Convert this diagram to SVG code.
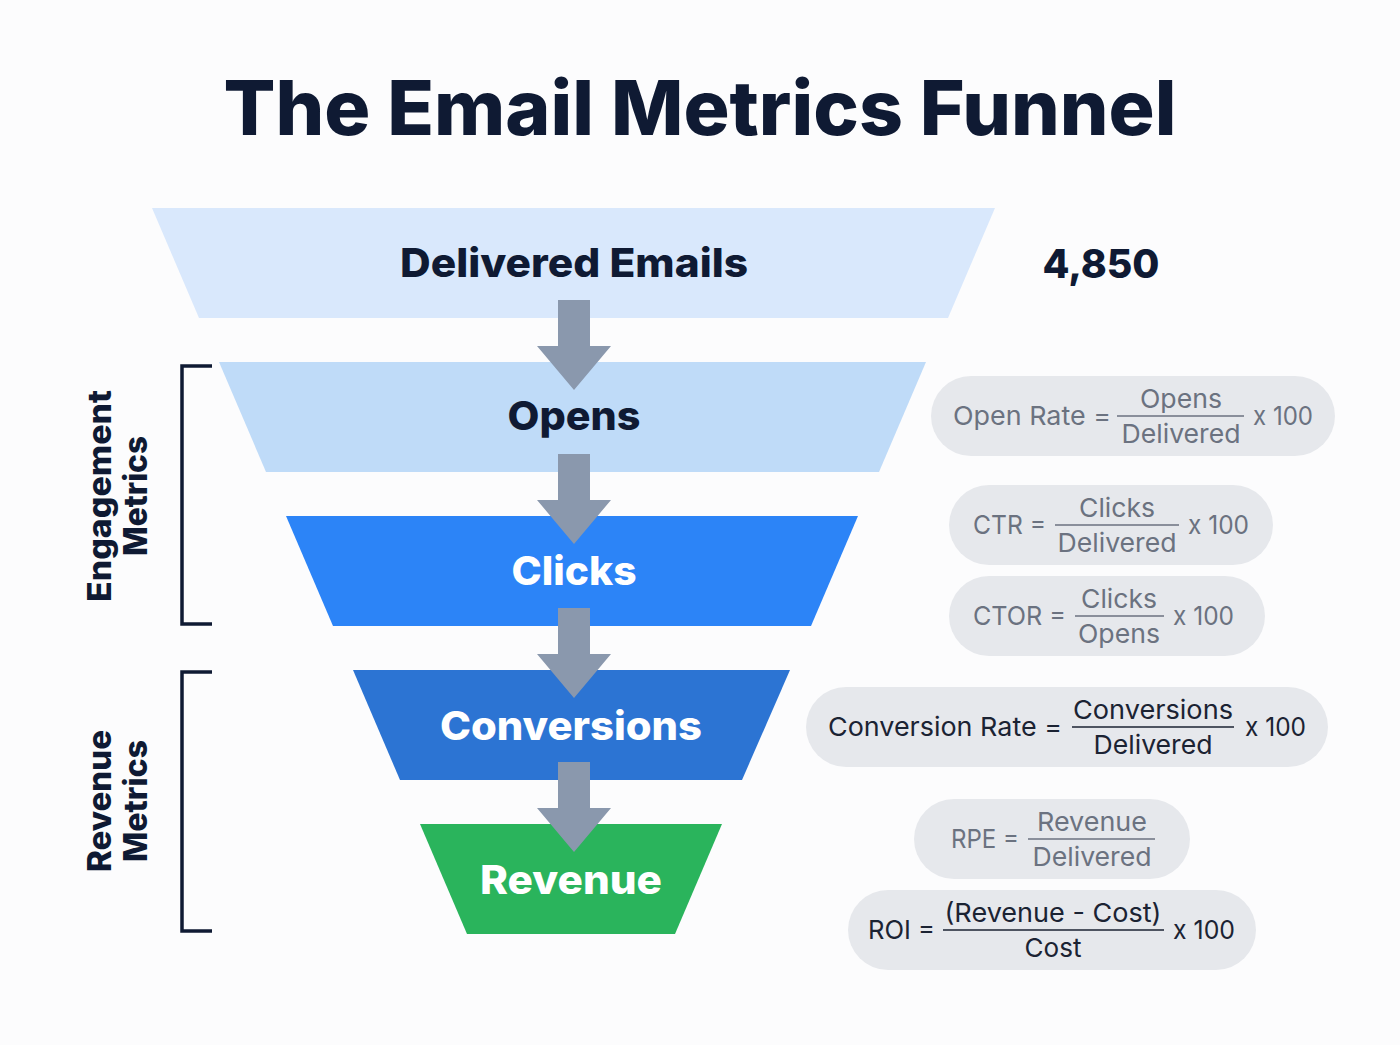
<svg xmlns="http://www.w3.org/2000/svg" width="1400" height="1045" viewBox="0 0 1400 1045">
<style>
.title{font-family:Inter,"Noto Sans","Liberation Sans",sans-serif;font-weight:800;fill:#0f1a33}
.stage{font-family:Inter,"Noto Sans","Liberation Sans",sans-serif;font-weight:800;text-anchor:middle}
.dark{fill:#0f1a33}
.white{fill:#ffffff}
.side{font-family:Inter,"Noto Sans","Liberation Sans",sans-serif;font-weight:800;font-size:32px;fill:#0f1a33;text-anchor:middle}
.bracket{fill:none;stroke:#0f1a33;stroke-width:3.5}
.pill{fill:#e6e8ec}
.f{font-family:Inter,"Noto Sans","Liberation Sans",sans-serif;font-size:26px}
.g{fill:#6b7280}
.d{fill:#1b2333}
.m{text-anchor:middle}
.lg{stroke:#6b7280;stroke-width:1.5}
.ld{stroke:#1b2333;stroke-width:1.5}
.arrow{fill:#8a98ad}
</style>
<rect width="1400" height="1045" fill="#fcfcfd"/>
<text class="title" x="700" y="135" font-size="76" text-anchor="middle" textLength="953" lengthAdjust="spacingAndGlyphs">The Email Metrics Funnel</text>

<g id="delivered">
<polygon points="152,208 995,208 948,318 199,318" fill="#d9e8fc"/>
<text class="stage dark" x="574" y="277" font-size="40" textLength="348" lengthAdjust="spacingAndGlyphs">Delivered Emails</text>
</g>
<g id="delivered-count">
<text class="stage dark" x="1101" y="278" font-size="40" textLength="117" lengthAdjust="spacingAndGlyphs">4,850</text>
</g>
<g id="opens">
<polygon points="219,362 926,362 879,472 266,472" fill="#bfdbf8"/>
<text class="stage dark" x="574" y="430" font-size="40" textLength="133" lengthAdjust="spacingAndGlyphs">Opens</text>
</g>
<g id="clicks">
<polygon points="286,516 858,516 811,626 333,626" fill="#2c84f7"/>
<text class="stage white" x="574" y="585" font-size="40" textLength="125" lengthAdjust="spacingAndGlyphs">Clicks</text>
</g>
<g id="conversions">
<polygon points="353,670 790,670 742,780 400,780" fill="#2c74d3"/>
<text class="stage white" x="571" y="740" font-size="40" textLength="262" lengthAdjust="spacingAndGlyphs">Conversions</text>
</g>
<g id="revenue">
<polygon points="420,824 722,824 675,934 467,934" fill="#2ab45c"/>
<text class="stage white" x="571" y="894" font-size="40" textLength="182" lengthAdjust="spacingAndGlyphs">Revenue</text>
</g>

<g id="connectors">
<polygon class="arrow" points="558,300 590,300 590,346 611,346 574,390 537,346 558,346"/>
<polygon class="arrow" points="558,454 590,454 590,500 611,500 574,544 537,500 558,500"/>
<polygon class="arrow" points="558,608 590,608 590,654 611,654 574,698 537,654 558,654"/>
<polygon class="arrow" points="558,762 590,762 590,808 611,808 574,852 537,808 558,808"/>
</g>

<g id="engagement-metrics">
<path class="bracket" d="M212,366 H182 V624 H212"/>
<text class="side" transform="translate(111,496) rotate(-90)" textLength="212" lengthAdjust="spacingAndGlyphs">Engagement</text>
<text class="side" transform="translate(147,496) rotate(-90)" textLength="120" lengthAdjust="spacingAndGlyphs">Metrics</text>
</g>
<g id="revenue-metrics">
<path class="bracket" d="M212,672 H182 V931 H212"/>
<text class="side" transform="translate(111,801) rotate(-90)" textLength="142" lengthAdjust="spacingAndGlyphs">Revenue</text>
<text class="side" transform="translate(147,801) rotate(-90)" textLength="122" lengthAdjust="spacingAndGlyphs">Metrics</text>
</g>

<g id="open-rate">
<rect class="pill" x="931" y="376" width="404" height="80" rx="40"/>
<text class="f g" x="953" y="425" textLength="158" lengthAdjust="spacingAndGlyphs">Open Rate =</text>
<text class="f g m" x="1181" y="408" textLength="82" lengthAdjust="spacingAndGlyphs">Opens</text>
<line class="lg" x1="1117" y1="416" x2="1244" y2="416"/>
<text class="f g m" x="1181" y="443" textLength="119" lengthAdjust="spacingAndGlyphs">Delivered</text>
<text class="f g" x="1253" y="425" textLength="60" lengthAdjust="spacingAndGlyphs">x 100</text>
</g>
<g id="ctr">
<rect class="pill" x="949" y="485" width="324" height="80" rx="40"/>
<text class="f g" x="973" y="534" textLength="73" lengthAdjust="spacingAndGlyphs">CTR =</text>
<text class="f g m" x="1117" y="517" textLength="76" lengthAdjust="spacingAndGlyphs">Clicks</text>
<line class="lg" x1="1055" y1="525" x2="1179" y2="525"/>
<text class="f g m" x="1117" y="552" textLength="119" lengthAdjust="spacingAndGlyphs">Delivered</text>
<text class="f g" x="1188" y="534" textLength="61" lengthAdjust="spacingAndGlyphs">x 100</text>
</g>
<g id="ctor">
<rect class="pill" x="949" y="576" width="316" height="80" rx="40"/>
<text class="f g" x="973" y="625" textLength="93" lengthAdjust="spacingAndGlyphs">CTOR =</text>
<text class="f g m" x="1119" y="608" textLength="76" lengthAdjust="spacingAndGlyphs">Clicks</text>
<line class="lg" x1="1075" y1="616" x2="1164" y2="616"/>
<text class="f g m" x="1119" y="643" textLength="82" lengthAdjust="spacingAndGlyphs">Opens</text>
<text class="f g" x="1173" y="625" textLength="61" lengthAdjust="spacingAndGlyphs">x 100</text>
</g>
<g id="conversion-rate">
<rect class="pill" x="806" y="687" width="522" height="80" rx="40"/>
<text class="f d" x="828" y="736" textLength="234" lengthAdjust="spacingAndGlyphs">Conversion Rate =</text>
<text class="f d m" x="1153" y="719" textLength="160" lengthAdjust="spacingAndGlyphs">Conversions</text>
<line class="ld" x1="1072" y1="727" x2="1234" y2="727"/>
<text class="f d m" x="1153" y="754" textLength="119" lengthAdjust="spacingAndGlyphs">Delivered</text>
<text class="f d" x="1245" y="736" textLength="61" lengthAdjust="spacingAndGlyphs">x 100</text>
</g>
<g id="rpe">
<rect class="pill" x="914" y="799" width="276" height="80" rx="40"/>
<text class="f g" x="951" y="848" textLength="68" lengthAdjust="spacingAndGlyphs">RPE =</text>
<text class="f g m" x="1092" y="831" textLength="110" lengthAdjust="spacingAndGlyphs">Revenue</text>
<line class="lg" x1="1028" y1="839" x2="1155" y2="839"/>
<text class="f g m" x="1092" y="866" textLength="119" lengthAdjust="spacingAndGlyphs">Delivered</text>
</g>
<g id="roi">
<rect class="pill" x="848" y="890" width="408" height="80" rx="40"/>
<text class="f d" x="868" y="939" textLength="67" lengthAdjust="spacingAndGlyphs">ROI =</text>
<text class="f d m" x="1053" y="922" textLength="217" lengthAdjust="spacingAndGlyphs">(Revenue - Cost)</text>
<line class="ld" x1="943" y1="930" x2="1164" y2="930"/>
<text class="f d m" x="1053" y="957" textLength="57" lengthAdjust="spacingAndGlyphs">Cost</text>
<text class="f d" x="1173" y="939" textLength="62" lengthAdjust="spacingAndGlyphs">x 100</text>
</g>
</svg>
